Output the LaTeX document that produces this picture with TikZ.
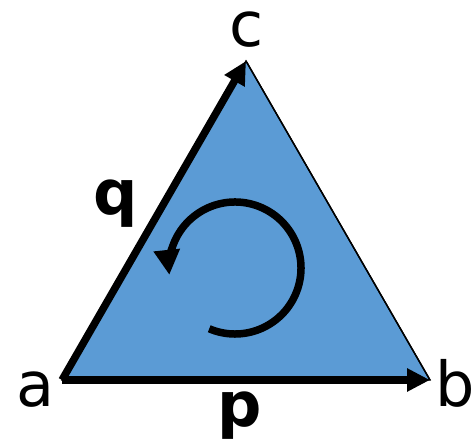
\documentclass[tikz,border=0pt]{standalone}
\usepackage{fontspec}
\setmainfont{DejaVu Sans}
\usetikzlibrary{
  arrows.meta,
  calc
}
\definecolor{triBlue}{HTML}{5B9BD5}
\tikzset{
  every node/.style={font=\fontsize{62}{62}\selectfont, text=black, inner sep=0pt},
  vertex label/.style={anchor=base},
  vec label/.style={anchor=base, font=\fontsize{62}{62}\selectfont\bfseries},
  face/.style={fill=triBlue, draw=black, line width=1.4pt, line join=miter},
  vec/.style={
    -{Triangle[length=23pt,width=22pt]},
    line width=7.5pt,
    draw=black
  },
  spin/.style={
    -{Triangle[length=25pt,width=25pt]},
    line width=7.5pt,
    draw=black
  }
}

\begin{document}
\begin{tikzpicture}[x=1pt, y=-1pt]
  \useasboundingbox (0,0) rectangle (475,443);

  \coordinate (a) at (62,380);
  \coordinate (b) at (430,380);
  \coordinate (c) at (246,61);

  \fill[face] (a) -- (b) -- (c) -- cycle;
  \draw[line width=1.4pt] (b) -- (c);

  \draw[vec] (a) -- (b);
  \draw[vec] (a) -- (c);

  % orientation
  \coordinate (spinc) at (235,268);
  \draw[spin] ($(spinc)+(113:66)$) arc[start angle=113, end angle=-186, radius=66];

  \node[vertex label] (la) at (35,407) {a};
  \node[vertex label] (lb) at (455,407) {b};
  \node[vertex label] (lc) at (247,47) {c};
  \node[vec label] (lq) at (116,215) {q};
  \node[vec label] (lp) at (240,427) {p};
\end{tikzpicture}
\end{document}
